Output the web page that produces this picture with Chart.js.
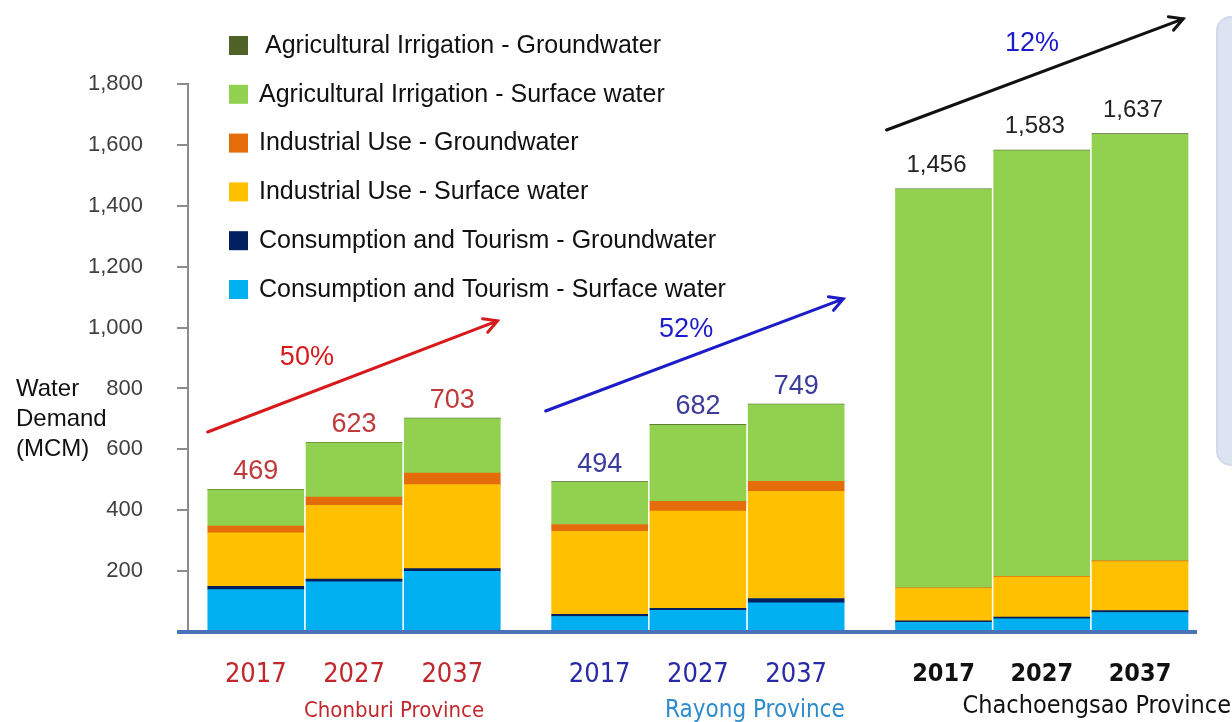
<!DOCTYPE html>
<html>
<head>
<meta charset="utf-8">
<script src="https://cdn.jsdelivr.net/npm/chart.js@4"></script>
<style>
  html, body { margin: 0; padding: 0; background: #fff; }
</style>
</head>
<body>
<canvas id="chart" width="1232" height="722"></canvas>
<script>
const provinces = ['Chonburi Province', 'Rayong Province', 'Chachoengsao Province'];
const years = ['2017', '2027', '2037'];

// one value per bar: Chonburi x3, Rayong x3, Chachoengsao x3 (MCM)
const consSurface = [139, 165, 199, 51, 71, 96, 32, 43, 64];
const consGround = [11, 9, 9, 7, 7, 14, 5, 6, 6];
const indSurface = [176, 242, 276, 273, 319, 352, 106, 131, 161];
const indGround = [22, 27, 38, 22, 32, 33, 2, 3, 3];
const agriSurface = [119, 178, 179, 139, 251, 252, 1309, 1398, 1401];
const agriGround = [2, 2, 2, 2, 2, 2, 2, 2, 2];

const growth = ['50%', '52%', '12%'];
const yTicks = [200, 400, 600, 800, 1000, 1200, 1400, 1600, 1800];

const FONT = "'Liberation Sans', Arial, sans-serif";
const NARROW = "'Liberation Sans Narrow', 'Arial Narrow', 'DejaVu Sans Condensed', sans-serif";
const groupColors = ['#c0282d', '#2a2aa8', '#111111'];
const totalColors = ['#c0393b', '#3b3b9e', '#222222'];
const provinceColors = ['#c0282d', '#2f8ccc', '#111111'];

// bar slot along the x axis, half a bar of space between provinces
const xPos = i => Math.floor(i / 3) * 3.5 + (i % 3);
const barLabels = provinces.flatMap(() => years);

const series = [
  { label: 'Consumption and Tourism - Surface water', data: consSurface, color: '#00b0f0' },
  { label: 'Consumption and Tourism - Groundwater', data: consGround, color: '#002060' },
  { label: 'Industrial Use - Surface water', data: indSurface, color: '#ffc000' },
  { label: 'Industrial Use - Groundwater', data: indGround, color: '#e46c0a' },
  { label: 'Agricultural Irrigation - Surface water', data: agriSurface, color: '#92d050' },
  { label: 'Agricultural Irrigation - Groundwater', data: agriGround, color: '#4f6228' }
];

const totals = barLabels.map((_, i) => series.reduce((s, d) => s + d.data[i], 0));

// growth arrows, in data units
const arrows = [
  { from: [-0.49, 657], to: [2.46, 1022], color: '#d7191c', text: growth[0], at: [0.52, 903], textColor: '#d7191c' },
  { from: [2.95, 726], to: [5.98, 1094], color: '#1c1cc8', text: growth[1], at: [4.38, 995], textColor: '#1c1cc8' },
  { from: [6.42, 1649], to: [9.44, 2014], color: '#111111', text: growth[2], at: [7.9, 1932], textColor: '#1c1cc8' }
];

const decorations = {
  id: 'decorations',
  beforeDraw(chart) {
    const ctx = chart.ctx;
    ctx.save();
    // cut-off note panel on the right edge
    ctx.fillStyle = '#dde4f1';
    ctx.strokeStyle = '#cfd9ea';
    ctx.lineWidth = 2;
    ctx.beginPath();
    ctx.roundRect(1217, 17, 40, 448, 14);
    ctx.fill();
    ctx.stroke();
    ctx.restore();
  },
  afterDraw(chart) {
    const { ctx, scales: { x, y }, chartArea } = chart;
    ctx.save();

    // base line
    ctx.strokeStyle = '#4a72b8';
    ctx.lineWidth = 4;
    ctx.beginPath();
    ctx.moveTo(177, chartArea.bottom);
    ctx.lineTo(chartArea.right, chartArea.bottom);
    ctx.stroke();

    // totals over bars
    ctx.textAlign = 'center';
    ctx.textBaseline = 'alphabetic';
    totals.forEach((t, i) => {
      const g = Math.floor(i / 3);
      ctx.font = (g === 2 ? '24px ' : '27px ') + FONT;
      ctx.fillStyle = totalColors[g];
      ctx.fillText(t.toLocaleString('en-US'), x.getPixelForValue(xPos(i)) - (g === 2 ? 7 : 0), y.getPixelForValue(t) - (g === 2 ? 17 : 10));
    });

    // province names, set a little right of each group's middle bar
    const nameShift = [40, 57, 55];
    const nameSize = [22, 24, 25];
    provinces.forEach((p, g) => {
      ctx.font = nameSize[g] + 'px ' + NARROW;
      ctx.fillStyle = provinceColors[g];
      ctx.textBaseline = 'middle';
      ctx.fillText(p, x.getPixelForValue(g * 3.5 + 1) + nameShift[g], g === 2 ? 706 : 711);
    });

    // arrows
    arrows.forEach(a => {
      const x1 = x.getPixelForValue(a.from[0]), y1 = y.getPixelForValue(a.from[1]);
      const x2 = x.getPixelForValue(a.to[0]), y2 = y.getPixelForValue(a.to[1]);
      const ang = Math.atan2(y2 - y1, x2 - x1);
      ctx.strokeStyle = a.color;
      ctx.lineWidth = 3;
      ctx.lineCap = 'round';
      ctx.beginPath();
      ctx.moveTo(x1, y1);
      ctx.lineTo(x2, y2);
      ctx.moveTo(x2 - 15 * Math.cos(ang - 0.5), y2 - 15 * Math.sin(ang - 0.5));
      ctx.lineTo(x2, y2);
      ctx.lineTo(x2 - 15 * Math.cos(ang + 0.5), y2 - 15 * Math.sin(ang + 0.5));
      ctx.stroke();
      ctx.font = '27px ' + FONT;
      ctx.fillStyle = a.textColor;
      ctx.textBaseline = 'middle';
      ctx.fillText(a.text, x.getPixelForValue(a.at[0]), y.getPixelForValue(a.at[1]));
    });

    // axis title
    ctx.font = '24px ' + FONT;
    ctx.fillStyle = '#111';
    ctx.textAlign = 'left';
    ['Water', 'Demand', '(MCM)'].forEach((s, k) => ctx.fillText(s, 16, 389 + k * 30));

    // legend, top entry first
    [...chart.data.datasets].reverse().forEach((d, k) => {
      const cy = 45 + k * 48.8;
      ctx.fillStyle = d.backgroundColor;
      ctx.fillRect(229, cy - 9, 19, 19);
      ctx.fillStyle = '#111';
      ctx.font = '25px ' + FONT;
      ctx.fillText(d.label, k === 0 ? 265 : 259, cy + 1);
    });

    ctx.restore();
  }
};

new Chart(document.getElementById('chart'), {
  type: 'bar',
  data: {
    datasets: series.map(s => ({
      label: s.label,
      data: s.data.map((v, i) => ({ x: xPos(i), y: v })),
      backgroundColor: s.color,
      borderWidth: 0,
      barThickness: 96
    }))
  },
  options: {
    responsive: false,
    animation: false,
    devicePixelRatio: 1,
    layout: { padding: { top: 84, right: 35, left: 0, bottom: 0 } },
    plugins: {
      legend: { display: false },
      tooltip: { enabled: false }
    },
    scales: {
      x: {
        type: 'linear',
        stacked: true,
        offset: false,
        min: -0.69,
        max: 9.58,
        grid: { display: false },
        border: { display: false },
        afterBuildTicks: axis => { axis.ticks = barLabels.map((_, i) => ({ value: xPos(i) })); },
        afterFit: s => { s.height = 90; },
        ticks: {
          autoSkip: false,
          maxRotation: 0,
          padding: 19,
          callback: (v, i) => barLabels[i],
          color: c => groupColors[Math.floor(c.index / 3)],
          font: c => ({ family: NARROW, size: c.index >= 6 ? 25 : 27, weight: c.index >= 6 ? 'bold' : 'normal' })
        }
      },
      y: {
        stacked: true,
        min: 0,
        max: 1800,
        afterBuildTicks: axis => { axis.ticks = [0, ...yTicks].map(v => ({ value: v })); },
        afterFit: s => { s.width = 188; },
        grid: { drawOnChartArea: false, drawTicks: true, tickLength: 11, color: '#8c8c8c', lineWidth: 2 },
        border: { color: '#8c8c8c', width: 2 },
        ticks: {
          padding: 34,
          color: '#404040',
          font: { family: FONT, size: 22 },
          callback: v => v === 0 ? '' : v.toLocaleString('en-US')
        }
      }
    }
  },
  plugins: [decorations]
});
</script>
</body>
</html>
